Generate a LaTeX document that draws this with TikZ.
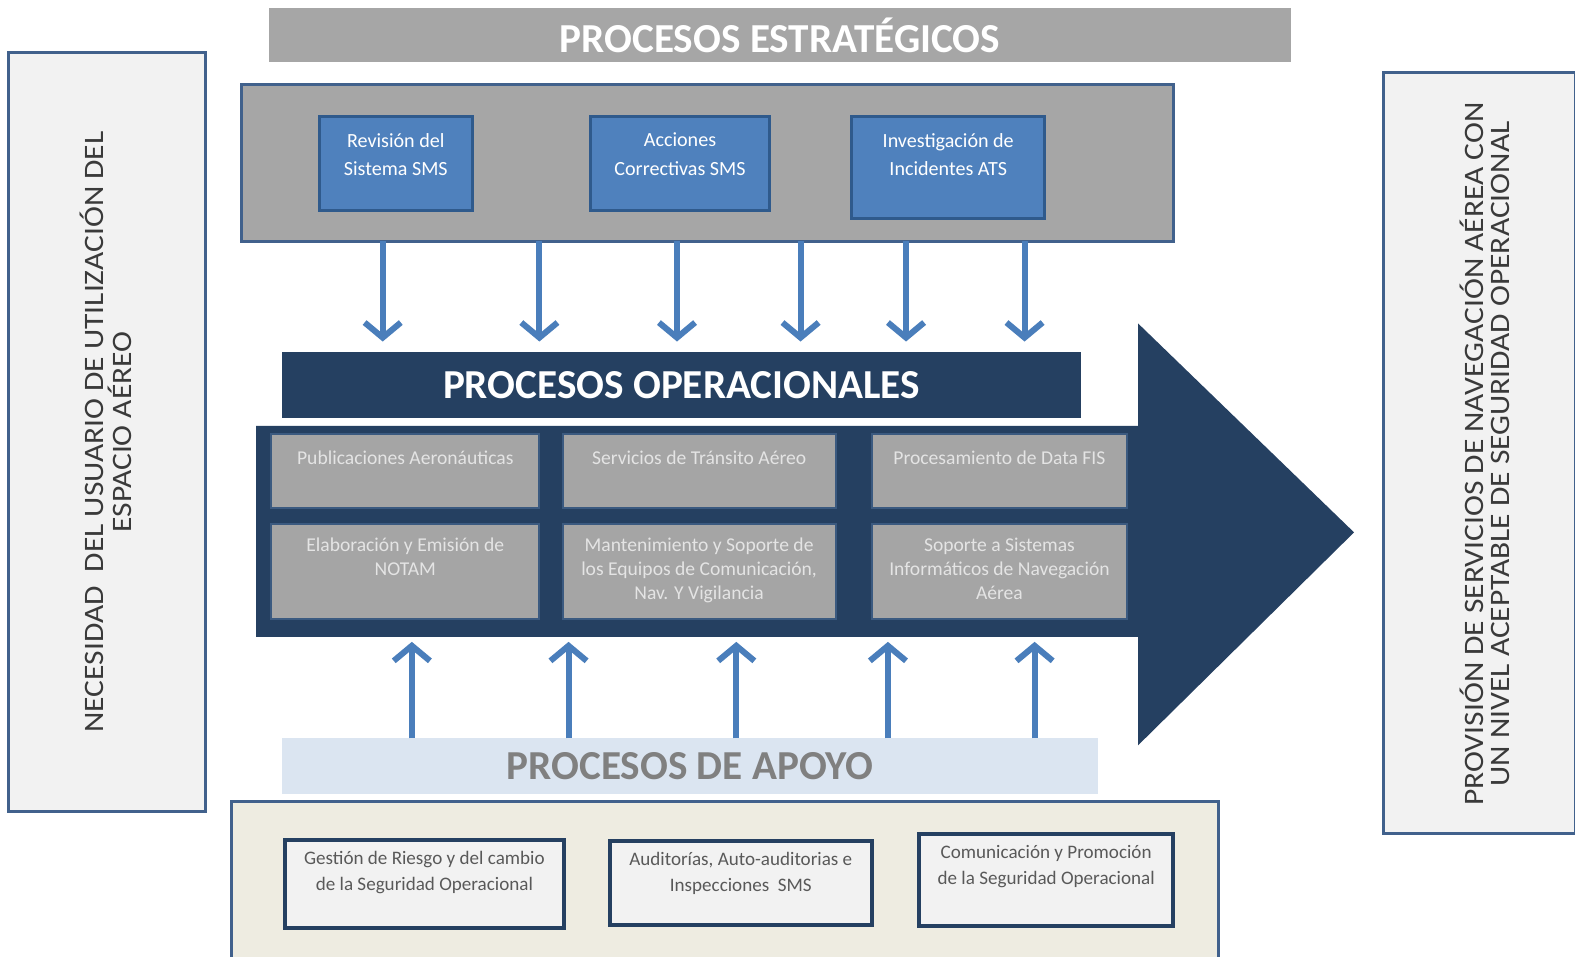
\documentclass[tikz,border=0pt]{standalone}
\usepackage{fontspec}
\setmainfont{Carlito}
\usetikzlibrary{arrows.meta,calc}
\definecolor{stratgray}{HTML}{A6A6A6}
\definecolor{framebl}{HTML}{41618C}
\definecolor{boxblue}{HTML}{4F81BD}
\definecolor{boxblueb}{HTML}{2F5A8C}
\definecolor{arrblue}{HTML}{4A7EBB}
\definecolor{navy}{HTML}{254061}
\definecolor{opgray}{HTML}{A5A5A5}
\definecolor{opgrayb}{HTML}{3B5A80}
\definecolor{apoyobg}{HTML}{DBE5F1}
\definecolor{beige}{HTML}{EEECE1}
\definecolor{paleg}{HTML}{F2F2F2}
\definecolor{dtext}{HTML}{3A3A3A}
\definecolor{mtext}{HTML}{595959}
\definecolor{optext}{HTML}{E4E4E4}
\begin{document}
\begin{tikzpicture}[x=1pt,y=-1pt,
  box/.style={rectangle, anchor=north west, inner sep=0pt, outer sep=0pt},
  bluebox/.style={box, fill=boxblue, draw=boxblueb, line width=3pt},
  bluetxt/.style={text=white, align=center, anchor=north, font=\fontsize{20}{28}\selectfont},
  opbox/.style={box, fill=opgray, draw=opgrayb, line width=2pt},
  optxt/.style={text=optext, align=center, anchor=north, font=\fontsize{19.5}{24}\selectfont},
  supbox/.style={box, fill=paleg, draw=navy, line width=4pt},
  suptxt/.style={text=mtext, align=center, anchor=north, font=\fontsize{19}{26}\selectfont},
  sidebox/.style={box, fill=paleg, draw=framebl, line width=3pt},
  sidetxt/.style={text=dtext, align=center, rotate=90, xscale=1.12},
  darr/.style={draw=arrblue, line width=6pt, -{Straight Barb[length=15pt,width=36pt]}},
  title/.style={text=white, font=\bfseries\fontsize{41}{44}\selectfont},
]
\useasboundingbox (0,0) rectangle (1568,952);
\fill[white] (0,0) rectangle (1568,952);

% side boxes
\node[sidebox, minimum width=197, minimum height=756] (left) at (8,52) {};
\node[sidetxt, font=\fontsize{28}{28}\selectfont] at ([xshift=-1pt]left.center) {NECESIDAD\ \ DEL USUARIO DE UTILIZACIÓN DEL\\ESPACIO AÉREO};
\node[sidebox, minimum width=191, minimum height=758] (right) at (1377,72) {};
\node[sidetxt, font=\fontsize{28}{25.5}\selectfont] at ([xshift=6pt,yshift=-1pt]right.center) {PROVISIÓN DE SERVICIOS DE NAVEGACIÓN AÉREA CON\\UN NIVEL ACEPTABLE DE SEGURIDAD OPERACIONAL};

% strategic
\node[box, fill=stratgray, minimum width=1017, minimum height=54, title] (estr) at (268,8) {PROCESOS ESTRATÉGICOS};
\node[box, fill=stratgray, draw=framebl, line width=3pt, minimum width=928, minimum height=156] (strat) at (240,84) {};
\node[bluebox, minimum width=152, minimum height=94] (s1) at (318,116) {};
\node[bluetxt] at ([yshift=-13pt]s1.north) {Revisión del\\Sistema SMS};
\node[bluebox, minimum width=178, minimum height=94] (s2) at (588,116) {};
\node[bluetxt] at ([yshift=-13pt]s2.north) {Acciones\\Correctivas SMS};
\node[bluebox, minimum width=192, minimum height=102] (s3) at (848,116) {};
\node[bluetxt] at ([yshift=-13pt]s3.north) {Investigación de\\Incidentes ATS};

% big arrow
\coordinate (abot) at (255,634);
\fill[navy] (255,424) -- (1133,424) -- (1133,322) -- (1348,530) -- (1133,742) -- (1133,634) -- (abot) -- cycle;

% operational bar
\node[box, fill=navy, minimum width=795, minimum height=66, title] (opbar) at (281,350) {PROCESOS OPERACIONALES};

\foreach \x in {381,537,674,797,902,1020}
  \draw[darr, shorten >=10pt] (strat.south -| \x,0) -- (\x,0 |- opbar.north);

% operational boxes
\node[opbox, minimum width=267, minimum height=74] (o1) at (270,432) {};
\node[optxt] at ([yshift=-13pt]o1.north) {Publicaciones Aeronáuticas};
\node[opbox, minimum width=272, minimum height=74] (o2) at (560,432) {};
\node[optxt] at ([yshift=-13pt]o2.north) {Servicios de Tránsito Aéreo};
\node[opbox, minimum width=254, minimum height=74] (o3) at (868,432) {};
\node[optxt] at ([yshift=-13pt]o3.north) {Procesamiento de Data FIS};
\node[opbox, minimum width=267, minimum height=94] (o4) at (270,522) {};
\node[optxt] at ([yshift=-10pt]o4.north) {Elaboración y Emisión de\\NOTAM};
\node[opbox, minimum width=272, minimum height=94] (o5) at (560,522) {};
\node[optxt] at ([yshift=-10pt]o5.north) {Mantenimiento y Soporte de\\los Equipos de Comunicación,\\Nav. Y Vigilancia};
\node[opbox, minimum width=254, minimum height=94] (o6) at (868,522) {};
\node[optxt] at ([yshift=-10pt]o6.north) {Soporte a Sistemas\\Informáticos de Navegación\\Aérea};

% support
\node[box, fill=apoyobg, minimum width=812, minimum height=55, title, text=gray] (apoyo) at (281,735) {PROCESOS DE APOYO};
\foreach \x in {410,566,733,884,1030}
  \draw[darr, shorten >=5pt] (apoyo.north -| \x,0) -- (\x,0 |- abot);

\node[box, fill=beige, draw=framebl, line width=3pt, minimum width=983, minimum height=156] (sup) at (230,798) {};
\node[supbox, minimum width=277, minimum height=88] (b1) at (284,836) {};
\node[suptxt] at ([yshift=-8pt]b1.north) {Gestión de Riesgo y del cambio\\de la Seguridad Operacional};
\node[supbox, minimum width=261, minimum height=84] (b2) at (607,837) {};
\node[suptxt] at ([yshift=-8pt]b2.north) {Auditorías, Auto-auditorias e\\Inspecciones\ \ SMS};
\node[supbox, minimum width=253, minimum height=92] (b3) at (915,830) {};
\node[suptxt] at ([yshift=-8pt]b3.north) {Comunicación y Promoción\\de la Seguridad Operacional};
\end{tikzpicture}
\end{document}
